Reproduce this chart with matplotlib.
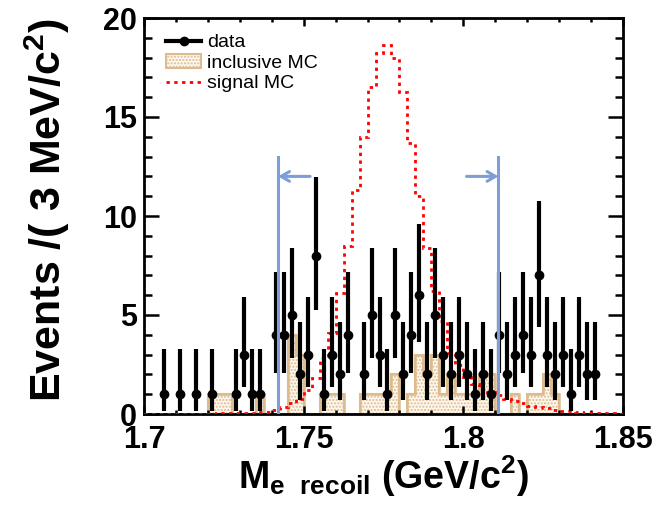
import numpy as np
import matplotlib
matplotlib.use("Agg")
import matplotlib.pyplot as plt
from matplotlib.lines import Line2D
from matplotlib.patches import Patch
from matplotlib.ticker import MultipleLocator

plt.rcParams['font.family'] = ['Liberation Sans', 'DejaVu Sans']
plt.rcParams['mathtext.fontset'] = 'custom'
plt.rcParams['mathtext.rm'] = 'Liberation Sans:bold'
plt.rcParams['mathtext.bf'] = 'Liberation Sans:bold'
plt.rcParams['mathtext.it'] = 'Liberation Sans:bold'
plt.rcParams['mathtext.default'] = 'bf'
plt.rcParams['hatch.linewidth'] = 1.0

# histogram range, 60 bins of 2.5 MeV
x_lo, x_hi, n_bins = 1.70, 1.85, 60

# data counts per bin
data_counts = [0, 0, 1, 0, 1, 0, 1, 0, 1, 0,
               0, 1, 3, 1, 1, 0, 4, 4, 5, 2,
               3, 8, 1, 3, 2, 4, 0, 2, 5, 3,
               1, 5, 2, 4, 6, 2, 5, 3, 2, 3,
               2, 1, 2, 1, 4, 2, 3, 4, 3, 7,
               3, 2, 3, 1, 3, 2, 2, 0, 0, 0]

# inclusive MC per bin
incl_mc = [0, 0, 0, 0, 0, 0, 0, 0, 1, 1,
           1, 0, 0, 0, 1, 0, 0, 0, 4, 3,
           0, 0, 1, 1, 1, 0, 0, 1, 1, 1,
           1, 2, 0, 1, 3, 2, 3, 1, 2, 1,
           1, 1, 2, 2, 0, 0, 1, 0, 1, 1,
           2, 1, 0, 0, 0, 0, 0, 0, 0, 0]

# signal MC (scaled) per bin
signal_mc = [0.02, 0.02, 0.02, 0.02, 0.02, 0.02, 0.02, 0.02, 0.02, 0.03,
             0.03, 0.04, 0.05, 0.07, 0.09, 0.12, 0.2, 0.34, 0.54, 0.76,
             1.22, 1.81, 2.83, 4.1, 6.1, 8.5, 11.3, 14.0, 16.5, 18.25,
             18.65, 18.0, 16.25, 13.7, 11.0, 8.4, 6.2, 4.68, 3.08, 2.49,
             1.86, 1.52, 1.27, 1.13, 0.97, 0.75, 0.65, 0.55, 0.42, 0.35,
             0.28, 0.22, 0.17, 0.13, 0.1, 0.07, 0.05, 0.04, 0.03, 0.02]

# 68% Poisson (Garwood) intervals, index = count
pois_low = [0, 0.173, 0.708, 1.367, 2.086, 2.840, 3.620, 4.419, 5.232]
pois_high = [0, 3.300, 4.638, 5.918, 7.163, 8.382, 9.584, 10.77, 11.95]

# signal window cuts
cut_lo, cut_hi = 1.742, 1.811
cut_top, arrow_y, arrow_len = 13.0, 12.0, 0.010

edges = np.linspace(x_lo, x_hi, n_bins + 1)
centers = 0.5 * (edges[:-1] + edges[1:])
counts = np.array(data_counts)
mask = counts > 0
low = counts[mask] - np.array([pois_low[c] for c in counts[mask]])
high = np.array([pois_high[c] for c in counts[mask]]) - counts[mask]

tan_edge = '#dcbc8e'
tan_face = '#fdf7ef'
cut_col = '#7f9ed6'

fig = plt.figure(figsize=(6.59, 5.05), dpi=100)
ax = fig.add_axes([144 / 659, 91 / 505, 479 / 659, 396 / 505])

ax.stairs(incl_mc, edges, fill=True, facecolor=tan_face, edgecolor=tan_edge,
          hatch='.....', lw=1.5, zorder=1)
ax.stairs(incl_mc, edges, color=tan_edge, lw=1.8, zorder=1.5)

ax.stairs(signal_mc, edges, color='red', lw=2.0, linestyle=(0, (1.2, 1.6)), zorder=3)

ax.errorbar(centers[mask], counts[mask], yerr=[low, high], fmt='o', color='black',
            ms=6, elinewidth=3, capsize=0, zorder=4)

# cut lines with arrows pointing to the window
for xc, direction in [(cut_lo, -1), (cut_hi, 1)]:
    ax.plot([xc, xc], [0, cut_top], color=cut_col, lw=2.2, zorder=5)
    ax.annotate('', xy=(xc, arrow_y), xytext=(xc - direction * arrow_len, arrow_y),
                arrowprops=dict(arrowstyle='->,head_length=0.6,head_width=0.35',
                                color=cut_col, lw=2.2, shrinkA=0, shrinkB=0),
                zorder=5)

ax.set_xlim(x_lo, x_hi)
ax.set_ylim(0, 20)
ax.xaxis.set_minor_locator(MultipleLocator(0.01))
ax.yaxis.set_major_locator(MultipleLocator(5))
ax.yaxis.set_minor_locator(MultipleLocator(1))
ax.set_xticks([1.7, 1.75, 1.8, 1.85])
ax.set_xticklabels(['1.7', '1.75', '1.8', '1.85'])

ax.tick_params(axis='both', which='both', direction='in', top=True, right=True,
               width=1.8, labelsize=22)
ax.tick_params(axis='x', which='major', length=6, pad=8)
ax.tick_params(axis='x', which='minor', length=3)
ax.tick_params(axis='y', which='major', length=11, pad=5)
ax.tick_params(axis='y', which='minor', length=5.5)
for lab in ax.get_xticklabels() + ax.get_yticklabels():
    lab.set_fontweight('bold')
for sp in ax.spines.values():
    sp.set_linewidth(2.0)

ax.set_ylabel('Events /( 3 MeV/c$^{2}$)', fontsize=31, fontweight='bold', loc='top')
ax.yaxis.set_label_coords(-0.15, 1.0)
ax.set_xlabel('M$_{e\\ \\ recoil}$ (GeV/c$^{2}$)', fontsize=27, fontweight='bold')
ax.xaxis.set_label_coords(0.5, -0.10)

handles = [
    Line2D([], [], color='black', marker='o', ms=6, lw=3),
    Patch(facecolor=tan_face, edgecolor=tan_edge, hatch='.....', lw=1.5),
    Line2D([], [], color='red', lw=2.0, linestyle=(0, (1.2, 1.6))),
]
ax.legend(handles, ['data', 'inclusive MC', 'signal MC'], loc='upper left',
          bbox_to_anchor=(0.03, 0.98), frameon=False, fontsize=14,
          handlelength=1.8, handletextpad=0.3, labelspacing=0.15, borderaxespad=0.0)

fig.savefig('out.png', dpi=100)
